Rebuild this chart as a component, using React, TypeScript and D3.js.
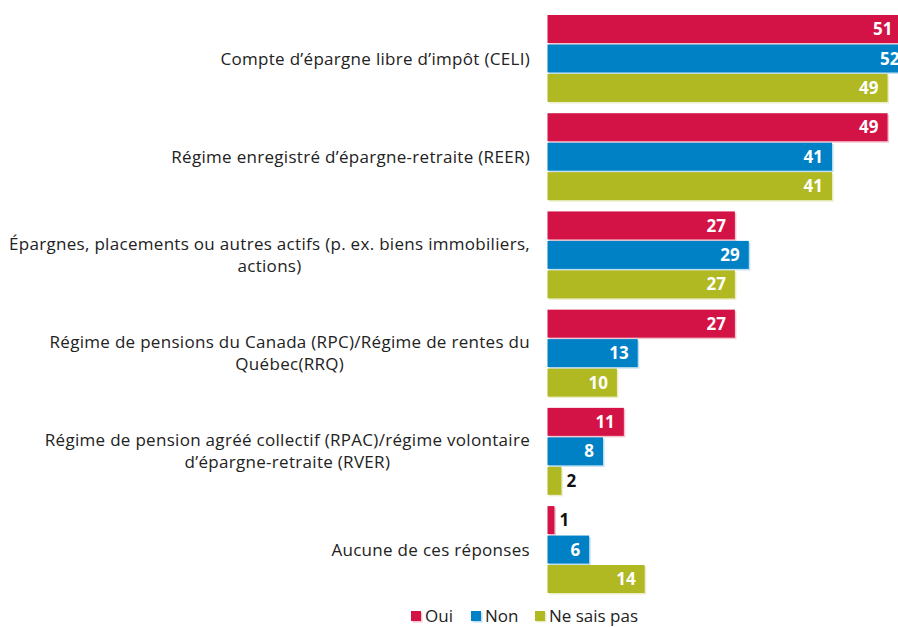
import { useEffect, useRef } from "react";
import * as d3 from "d3";

const categories = [
  "Compte d’épargne libre d’impôt (CELI)",
  "Régime enregistré d’épargne-retraite (REER)",
  "Épargnes, placements ou autres actifs (p. ex. biens immobiliers,\nactions)",
  "Régime de pensions du Canada (RPC)/Régime de rentes du\nQuébec(RRQ)",
  "Régime de pension agréé collectif (RPAC)/régime volontaire\nd’épargne-retraite (RVER)",
  "Aucune de ces réponses",
];
const series = ["Oui", "Non", "Ne sais pas"];
const oui = [51, 49, 27, 27, 11, 1];
const non = [52, 41, 29, 13, 8, 6];
const nsp = [49, 41, 27, 10, 2, 14];
const colors = ["#d31245", "#0081c6", "#b0b921"];

export default function App() {
  const svgRef = useRef<SVGSVGElement>(null);

  useEffect(() => {
    document.body.style.margin = "0";
    const w = 898;
    const h = 627;
    const svg = d3.select(svgRef.current).attr("width", w).attr("height", h);
    svg.selectAll("*").remove();

    const values = [oui, non, nsp];
    const rows = categories.map((c, i) => ({ cat: c, vals: values.map((v) => v[i]) }));

    // scales
    const y0 = d3.scaleBand().domain(categories).range([15, 593]).paddingInner(0.115);
    const y1 = d3.scaleBand().domain(series).range([0, y0.bandwidth()]).paddingInner(0.05);
    const x = d3.scaleLinear().domain([0, 50]).range([547.5, 894.5]);

    const font = "'Open Sans', 'Noto Sans', sans-serif";

    const g = svg.selectAll("g.grp").data(rows).join("g")
      .attr("class", "grp")
      .attr("transform", (d) => `translate(0,${y0(d.cat)})`);

    const bars = g.selectAll("g.bar")
      .data((d) => d.vals.map((v, j) => ({ v, s: series[j], j })))
      .join("g").attr("class", "bar");

    // faint shadow
    bars.append("rect")
      .attr("x", x(0) + 1.5)
      .attr("y", (d) => (y1(d.s) as number) + 1.5)
      .attr("width", (d) => x(d.v) - x(0))
      .attr("height", y1.bandwidth())
      .attr("fill", (d) => colors[d.j])
      .attr("opacity", 0.25);
    bars.append("rect")
      .attr("x", x(0))
      .attr("y", (d) => y1(d.s) as number)
      .attr("width", (d) => x(d.v) - x(0))
      .attr("height", y1.bandwidth())
      .attr("fill", (d) => colors[d.j]);

    bars.append("text")
      .attr("x", (d) => (d.v < 5 ? x(d.v) + 5 : x(d.v) - 9))
      .attr("y", (d) => (y1(d.s) as number) + y1.bandwidth() / 2)
      .attr("dy", "0.36em")
      .attr("text-anchor", (d) => (d.v < 5 ? "start" : "end"))
      .attr("fill", (d) => (d.v < 5 ? "#111" : "#fff"))
      .style("font-family", font)
      .style("font-weight", "bold")
      .style("font-size", "17px")
      .text((d) => d.v);

    // category labels, centred block with right edge at 530
    const lineH = 22;
    g.each(function (d) {
      const lines = d.cat.split("\n");
      const t = d3.select(this).append("text")
        .style("font-family", font)
        .style("font-size", "17px")
        .style("letter-spacing", "0.3px")
        .attr("fill", "#222");
      const spans = lines.map((l, k) =>
        t.append("tspan")
          .attr("y", y0.bandwidth() / 2 + (k - (lines.length - 1) / 2) * lineH)
          .attr("dy", "0.36em")
          .text(l)
      );
      const maxW = d3.max(spans, (s) => (s.node() as SVGTSpanElement).getComputedTextLength()) || 0;
      const cx = 530 - maxW / 2;
      spans.forEach((s) => s.attr("x", cx).attr("text-anchor", "middle"));
    });

    // legend
    const legX = [411, 471, 535];
    const leg = svg.append("g").selectAll("g").data(series).join("g")
      .attr("transform", (d, i) => `translate(${legX[i]},611)`);
    leg.append("rect").attr("x", 1.5).attr("y", 1.5).attr("width", 10).attr("height", 10)
      .attr("fill", (d, i) => colors[i]).attr("opacity", 0.25);
    leg.append("rect").attr("width", 10).attr("height", 10).attr("fill", (d, i) => colors[i]);
    leg.append("text")
      .attr("x", 14)
      .attr("y", 11)
      .style("font-family", font)
      .style("font-size", "17px")
      .attr("fill", "#222")
      .text((d) => d);
  }, []);

  return (
    <div>
      <svg ref={svgRef}></svg>
    </div>
  );
}
